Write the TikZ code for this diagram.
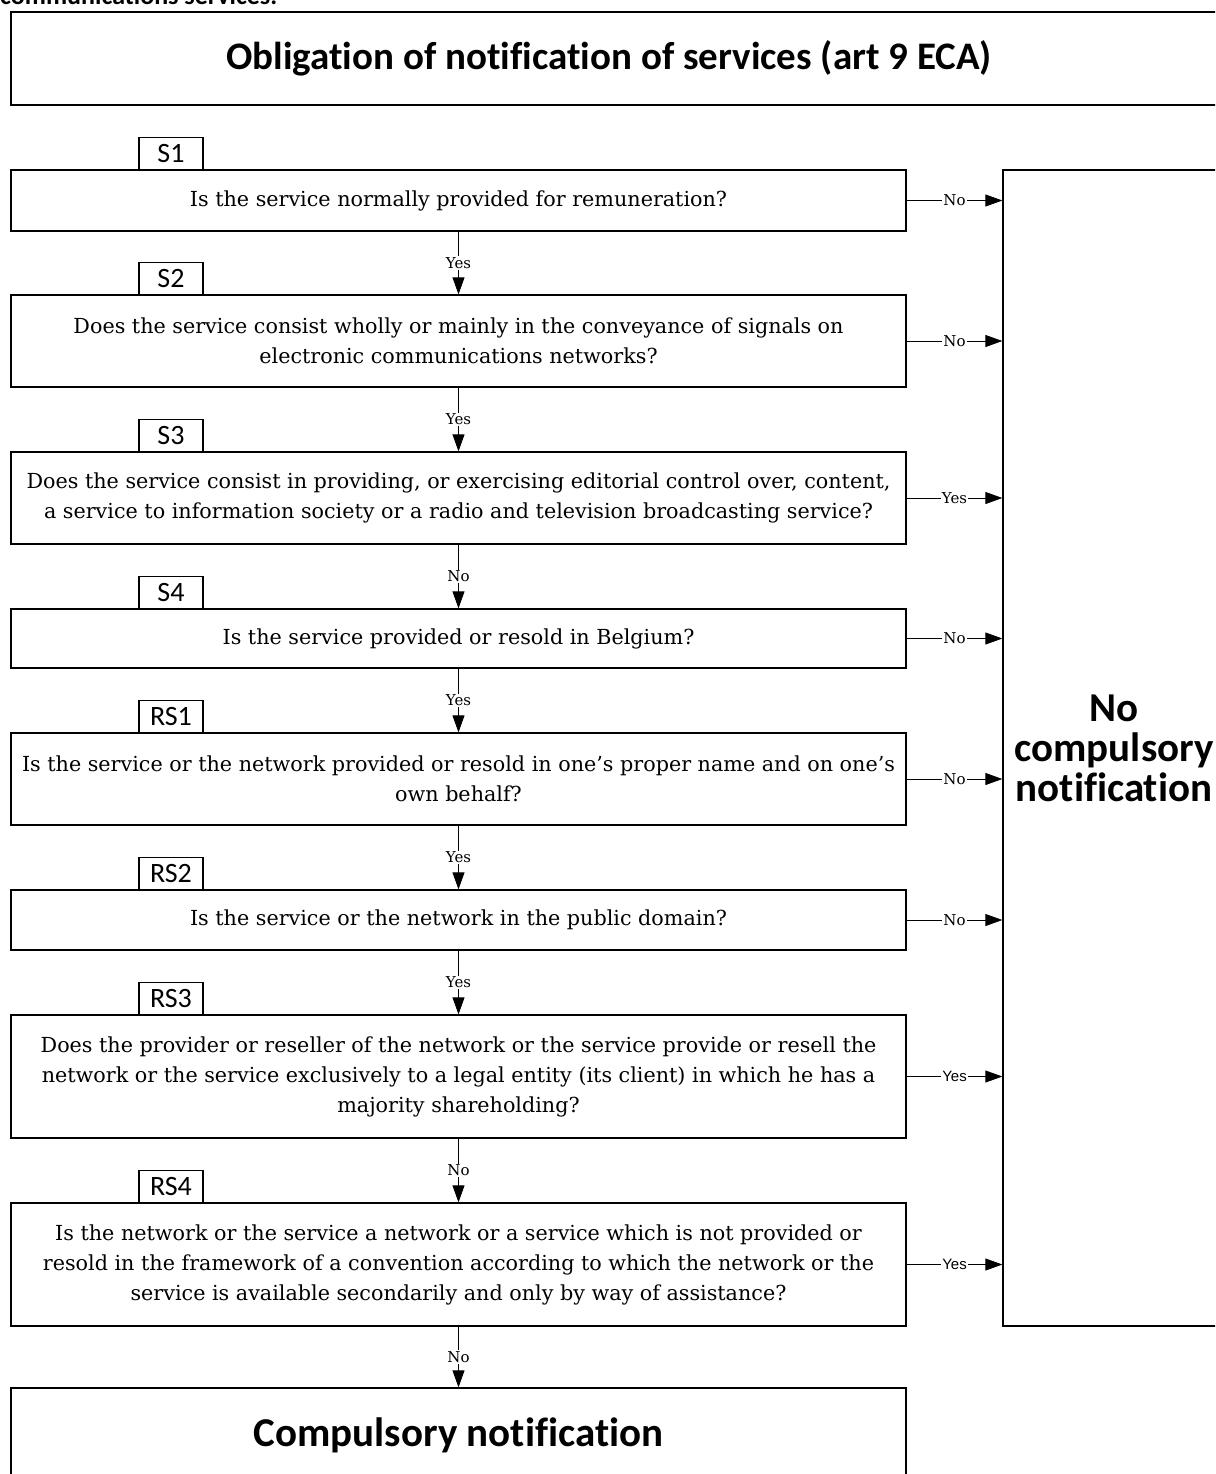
\documentclass[tikz,border=0pt]{standalone}
\usepackage{fontspec}
\setmainfont{DejaVu Serif}
\newfontfamily\calib{Carlito}[Ligatures=CommonOff]
\newfontfamily\arialf{Liberation Sans}
\usetikzlibrary{arrows.meta}
\newcommand\qfont{\fontsize{20.7}{30}\selectfont}
\begin{document}
\begin{tikzpicture}[x=1pt,y=-1pt,
  qbox/.style={draw, line width=1.3pt, minimum width=895pt, inner sep=0pt, align=center, font=\qfont},
  tagbox/.style={draw, line width=1.1pt, minimum width=64pt, minimum height=32pt, inner sep=0pt, anchor=south, font=\calib\fontsize{28}{30}\selectfont},
  arr/.style={-{Triangle[length=17pt,width=12pt]}, line width=0.8pt},
  lbl/.style={fill=white, inner sep=1pt, font=\fontsize{15}{16}\selectfont},
  lbls/.style={fill=white, inner sep=1pt, font=\arialf\fontsize{15}{16}\selectfont},
  bigtext/.style={font=\calib\bfseries\fontsize{41}{40}\selectfont}
]
\useasboundingbox (0,0) rectangle (1215,1474);
\clip (0,0) rectangle (1215,1474);

% clipped introductory text
\node[anchor=base west, inner sep=0pt, font=\calib\bfseries\fontsize{26}{28}\selectfont] (intro) at (0,5) {communications services.};

% title
\node[draw, line width=1.3pt, minimum width=1214pt, minimum height=93pt] (title) at (618,58.5) {};
\node[font=\calib\bfseries\fontsize{39}{42}\selectfont] (titletext) at (609,58) {Obligation of notification of services (art 9 ECA)};

% questions
\node[qbox, minimum height=61pt] (s1) at (458.5,200.5) {Is the service normally provided for remuneration?};
\node[qbox, minimum height=92pt] (s2) at (458.5,341) {Does the service consist wholly or mainly in the conveyance of signals on\\electronic communications networks?};
\node[qbox, minimum height=92pt] (s3) at (458.5,498) {Does the service consist in providing, or exercising editorial control over, content,\\a service to information society or a radio and television broadcasting service?};
\node[qbox, minimum height=59pt] (s4) at (458.5,638.5) {Is the service provided or resold in Belgium?};
\node[qbox, minimum height=92pt] (rs1) at (458.5,779) {Is the service or the network provided or resold in one’s proper name and on one’s\\own behalf?};
\node[qbox, minimum height=60pt] (rs2) at (458.5,920) {Is the service or the network in the public domain?};
\node[qbox, minimum height=123pt] (rs3) at (458.5,1076.5) {Does the provider or reseller of the network or the service provide or resell the\\network or the service exclusively to a legal entity (its client) in which he has a\\majority shareholding?};
\node[qbox, minimum height=123pt] (rs4) at (458.5,1264.5) {Is the network or the service a network or a service which is not provided or\\resold in the framework of a convention according to which the network or the\\service is available secondarily and only by way of assistance?};
\node[qbox, minimum height=94pt, bigtext] (cn) at (458.5,1435) {Compulsory notification};

% tags
\node[tagbox] (t1) at (171,170) {S1};
\node[tagbox] (t2) at (171,295) {S2};
\node[tagbox] (t3) at (171,452) {S3};
\node[tagbox] (t4) at (171,609) {S4};
\node[tagbox] (t5) at (171,733) {RS1};
\node[tagbox] (t6) at (171,890) {RS2};
\node[tagbox] (t7) at (171,1015) {RS3};
\node[tagbox] (t8) at (171,1203) {RS4};

% right box
\node[draw, line width=1.3pt, minimum width=222pt, minimum height=1156pt, align=center, bigtext] (nc) at (1114,748) {No\\compulsory\\notification};

% vertical arrows
\draw[arr] (s1.south) -- node[lbl]{Yes} (s2.north);
\draw[arr] (s2.south) -- node[lbl]{Yes} (s3.north);
\draw[arr] (s3.south) -- node[lbl]{No} (s4.north);
\draw[arr] (s4.south) -- node[lbl]{Yes} (rs1.north);
\draw[arr] (rs1.south) -- node[lbl]{Yes} (rs2.north);
\draw[arr] (rs2.south) -- node[lbl]{Yes} (rs3.north);
\draw[arr] (rs3.south) -- node[lbl]{No} (rs4.north);
\draw[arr] (rs4.south) -- node[lbl]{No} (cn.north);

% right arrows
\draw[arr] (s1.east) -- node[lbl]{No} (s1.east -| nc.west);
\draw[arr] (s2.east) -- node[lbl]{No} (s2.east -| nc.west);
\draw[arr] (s3.east) -- node[lbl]{Yes} (s3.east -| nc.west);
\draw[arr] (s4.east) -- node[lbl]{No} (s4.east -| nc.west);
\draw[arr] (rs1.east) -- node[lbl]{No} (rs1.east -| nc.west);
\draw[arr] (rs2.east) -- node[lbl]{No} (rs2.east -| nc.west);
\draw[arr] (rs3.east) -- node[lbls]{Yes} (rs3.east -| nc.west);
\draw[arr] (rs4.east) -- node[lbls]{Yes} (rs4.east -| nc.west);
\end{tikzpicture}
\end{document}
